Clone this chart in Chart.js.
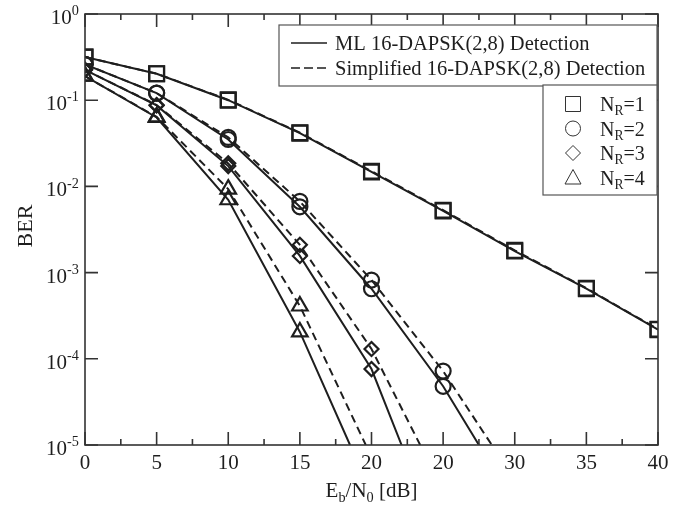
<!DOCTYPE html>
<html>
<head>
<meta charset="utf-8">
<script src="https://cdn.jsdelivr.net/npm/chart.js@4.4.1/dist/chart.umd.min.js"></script>
<style>
  html, body { margin:0; padding:0; background:#fff; }
</style>
</head>
<body>
<canvas id="berChart" width="700" height="507"></canvas>
<script>
// x axis ticks (the original figure labels the 25 dB tick "20")
const xTickValues = [0, 5, 10, 15, 20, 25, 30, 35, 40];
const xTickLabels = ['0', '5', '10', '15', '20', '20', '30', '35', '40'];
const yTickValues = [1, 1e-1, 1e-2, 1e-3, 1e-4, 1e-5];
const yTickExps   = ['0', '-1', '-2', '-3', '-4', '-5'];

// N_R = 1
const nr1X      = [0, 5, 10, 15, 20, 25, 30, 35, 40];
const nr1ML     = [0.317, 0.203, 0.100, 0.0415, 0.0147, 0.0052, 0.00178, 0.00065, 0.000218];
const nr1Simple = [0.317, 0.203, 0.101, 0.0420, 0.0150, 0.0053, 0.00181, 0.00066, 0.000220];
// N_R = 2 (last point = where the curve leaves the plot at 1e-5)
const nr2XML     = [0, 5, 10, 15, 20, 25, 27.5];
const nr2ML      = [0.26, 0.121, 0.035, 0.0058, 0.00065, 4.8e-5, 1e-5];
const nr2XSimple = [0, 5, 10, 15, 20, 25, 28.4];
const nr2Simple  = [0.26, 0.121, 0.037, 0.0067, 0.00082, 7.2e-5, 1e-5];
// N_R = 3
const nr3XML     = [0, 5, 10, 15, 20, 22.1];
const nr3ML      = [0.225, 0.087, 0.0172, 0.00156, 7.6e-5, 1e-5];
const nr3XSimple = [0, 5, 10, 15, 20, 23.4];
const nr3Simple  = [0.225, 0.088, 0.0185, 0.0021, 1.3e-4, 1e-5];
// N_R = 4
const nr4XML     = [0, 5, 10, 15, 18.5];
const nr4ML      = [0.19, 0.063, 0.0070, 2.05e-4, 1e-5];
const nr4XSimple = [0, 5, 10, 15, 19.6];
const nr4Simple  = [0.19, 0.064, 0.0093, 4.1e-4, 1e-5];

const Y_MIN = 1e-5;
const INK = '#1e1e1e';
const FONT = '"Liberation Serif", "Times New Roman", serif';

function pts(xs, ys) {
  return xs.map((x, i) => ({ x: x, y: ys[i] }));
}

function series(xs, ys, style, radius, dashed) {
  return {
    data: pts(xs, ys),
    borderColor: INK,
    borderWidth: 2,
    borderDash: dashed ? [8, 5] : [],
    pointStyle: style,
    pointRadius: c => (c.raw && c.raw.y <= Y_MIN ? 0 : radius),
    pointBorderWidth: 2.2,
    pointBorderColor: INK,
    pointBackgroundColor: 'rgba(0,0,0,0)',
    fill: false,
    tension: 0
  };
}

// text with sub/superscripts: parts = [[text, 'sub'|'sup'|null], ...]
function richWidth(ctx, parts, size) {
  let w = 0;
  parts.forEach(p => {
    ctx.font = (p[1] ? size * 0.68 : size) + 'px ' + FONT;
    w += ctx.measureText(p[0]).width;
  });
  return w;
}
function richText(ctx, parts, x, y, size) {
  ctx.textBaseline = 'alphabetic';
  ctx.textAlign = 'left';
  parts.forEach(p => {
    ctx.font = (p[1] ? size * 0.68 : size) + 'px ' + FONT;
    let dy = 0;
    if (p[1] === 'sup') dy = -size * 0.42;
    if (p[1] === 'sub') dy = size * 0.22;
    ctx.fillText(p[0], x, y + dy);
    x += ctx.measureText(p[0]).width;
  });
}

function marker(ctx, style, x, y) {
  ctx.beginPath();
  if (style === 'rect') ctx.rect(x - 7.5, y - 7.5, 15, 15);
  else if (style === 'circle') ctx.arc(x, y, 7.5, 0, Math.PI * 2);
  else if (style === 'rectRot') { ctx.moveTo(x, y - 7.5); ctx.lineTo(x + 7.5, y); ctx.lineTo(x, y + 7.5); ctx.lineTo(x - 7.5, y); ctx.closePath(); }
  else { ctx.moveTo(x, y - 8); ctx.lineTo(x + 8, y + 6.5); ctx.lineTo(x - 8, y + 6.5); ctx.closePath(); }
  ctx.stroke();
}

const framePlugin = {
  id: 'framePlugin',
  afterDatasetsDraw(chart) {
    const { ctx, chartArea: a, scales: { x, y } } = chart;
    ctx.save();
    ctx.strokeStyle = '#333';
    ctx.lineWidth = 1.6;
    ctx.strokeRect(a.left, a.top, a.right - a.left, a.bottom - a.top);

    // inward ticks
    ctx.beginPath();
    xTickValues.forEach((v, i) => {
      const px = x.getPixelForValue(v);
      ctx.moveTo(px, a.bottom); ctx.lineTo(px, a.bottom - 13);
      ctx.moveTo(px, a.top); ctx.lineTo(px, a.top + 13);
      if (i < xTickValues.length - 1) {
        const mx = x.getPixelForValue((v + xTickValues[i + 1]) / 2);
        ctx.moveTo(mx, a.bottom); ctx.lineTo(mx, a.bottom - 6);
        ctx.moveTo(mx, a.top); ctx.lineTo(mx, a.top + 6);
      }
    });
    yTickValues.forEach(v => {
      const py = y.getPixelForValue(v);
      ctx.moveTo(a.left, py); ctx.lineTo(a.left + 13, py);
      ctx.moveTo(a.right, py); ctx.lineTo(a.right - 13, py);
    });
    ctx.stroke();

    // tick labels
    ctx.fillStyle = INK;
    ctx.font = '21px ' + FONT;
    ctx.textAlign = 'center';
    ctx.textBaseline = 'alphabetic';
    xTickValues.forEach((v, i) => {
      ctx.fillText(xTickLabels[i], x.getPixelForValue(v), a.bottom + 24);
    });
    yTickValues.forEach((v, i) => {
      const parts = [['10', null], [yTickExps[i], 'sup']];
      const w = richWidth(ctx, parts, 21);
      richText(ctx, parts, a.left - 6 - w, y.getPixelForValue(v) + 10, 21);
    });

    // axis titles
    const xt = [['E', null], ['b', 'sub'], ['/N', null], ['0', 'sub'], [' [dB]', null]];
    const xw = richWidth(ctx, xt, 21);
    richText(ctx, xt, (a.left + a.right) / 2 - xw / 2, a.bottom + 52, 21);
    ctx.save();
    ctx.translate(32, 226);
    ctx.rotate(-Math.PI / 2);
    ctx.font = '22px ' + FONT;
    ctx.textAlign = 'center';
    ctx.textBaseline = 'alphabetic';
    ctx.fillText('BER', 0, 0);
    ctx.restore();

    // legend box 1 (line styles)
    ctx.fillStyle = '#fff';
    ctx.strokeStyle = '#555';
    ctx.lineWidth = 1.2;
    ctx.fillRect(279, 25, 378, 61);
    ctx.strokeRect(279, 25, 378, 61);
    ctx.strokeStyle = INK;
    ctx.lineWidth = 1.6;
    ctx.beginPath(); ctx.moveTo(291, 43); ctx.lineTo(327, 43); ctx.stroke();
    ctx.setLineDash([9, 4]);
    ctx.beginPath(); ctx.moveTo(291, 68); ctx.lineTo(327, 68); ctx.stroke();
    ctx.setLineDash([]);
    ctx.fillStyle = INK;
    ctx.font = '20.5px ' + FONT;
    ctx.textAlign = 'left';
    ctx.textBaseline = 'alphabetic';
    ctx.fillText('ML 16-DAPSK(2,8) Detection', 335, 50);
    ctx.fillText('Simplified 16-DAPSK(2,8) Detection', 335, 75);

    // legend box 2 (receive antennas)
    ctx.fillStyle = '#fff';
    ctx.strokeStyle = '#555';
    ctx.lineWidth = 1.2;
    ctx.fillRect(543, 85, 114, 110);
    ctx.strokeRect(543, 85, 114, 110);
    const styles = ['rect', 'circle', 'rectRot', 'triangle'];
    ctx.strokeStyle = '#333';
    ctx.lineWidth = 1;
    ctx.fillStyle = INK;
    styles.forEach((s, i) => {
      const ry = 104 + i * 24.5;
      marker(ctx, s, 573, ry);
      richText(ctx, [['N', null], ['R', 'sub'], ['=' + (i + 1), null]], 600, ry + 7, 20);
    });
    ctx.restore();
  }
};

new Chart(document.getElementById('berChart'), {
  type: 'line',
  data: {
    datasets: [
      series(nr1X, nr1ML, 'rect', 10.5, false),
      series(nr1X, nr1Simple, 'rect', 10.5, true),
      series(nr2XML, nr2ML, 'circle', 7.5, false),
      series(nr2XSimple, nr2Simple, 'circle', 7.5, true),
      series(nr3XML, nr3ML, 'rectRot', 7, false),
      series(nr3XSimple, nr3Simple, 'rectRot', 7, true),
      series(nr4XML, nr4ML, 'triangle', 9, false),
      series(nr4XSimple, nr4Simple, 'triangle', 9, true)
    ]
  },
  options: {
    responsive: false,
    animation: false,
    devicePixelRatio: 1,
    layout: { padding: { left: 85, right: 42, top: 14, bottom: 62 } },
    plugins: { legend: { display: false }, tooltip: { enabled: false } },
    scales: {
      x: { type: 'linear', min: 0, max: 40, display: false },
      y: { type: 'logarithmic', min: Y_MIN, max: 1, display: false }
    }
  },
  plugins: [framePlugin]
});
</script>
</body>
</html>
